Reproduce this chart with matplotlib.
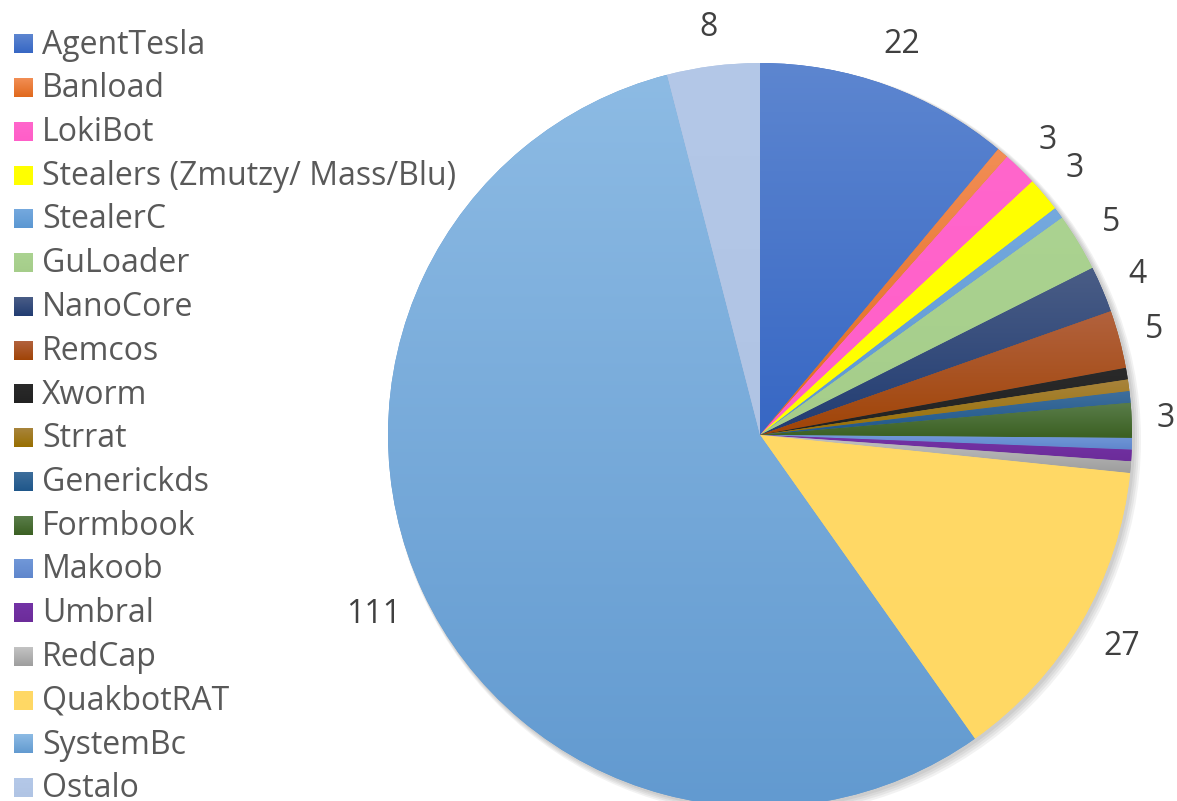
import numpy as np
import matplotlib
matplotlib.use("Agg")
import matplotlib.pyplot as plt
from matplotlib.colors import to_rgb
from matplotlib.patches import Circle

plt.rcParams['font.family'] = ['Open Sans', 'DejaVu Sans']

labels = ["AgentTesla", "Banload", "LokiBot", "Stealers (Zmutzy/ Mass/Blu)", "StealerC",
          "GuLoader", "NanoCore", "Remcos", "Xworm", "Strrat", "Generickds", "Formbook",
          "Makoob", "Umbral", "RedCap", "QuakbotRAT", "SystemBc", "Ostalo"]
values = [22, 1, 3, 3, 1, 5, 4, 5, 1, 1, 1, 3, 1, 1, 1, 27, 111, 8]

# (top colour, bottom colour) gradient per slice
grad = [("#5d86d0", "#3767c4"), ("#f28e55", "#e0691c"), ("#ff66cc", "#ff5ec8"),
        ("#ffff00", "#ffff00"), ("#75a9de", "#5b97d2"), ("#abd391", "#a5cd8a"),
        ("#4a5d86", "#213c72"), ("#b2623e", "#a04406"), ("#2a2a2a", "#222222"),
        ("#a8843c", "#986f00"), ("#3e6e9c", "#1f578a"), ("#5a7d4a", "#3b6022"),
        ("#7198d8", "#5f86cc"), ("#7433a6", "#6c2c9a"), ("#c4c4c4", "#9d9d9d"),
        ("#ffd966", "#ffd864"), ("#8dbbe4", "#629ad0"), ("#b4c8e8", "#b0c4e4")]

W, H = 1177, 801
fig = plt.figure(figsize=(W / 100, H / 100), dpi=100)
ax = fig.add_axes([0, 0, 1, 1])

cx, cy, R = 760, H - 435, 372

def gradient_img(top, bottom, extent, clip=None, z=2):
    t = np.array(to_rgb(top)); b = np.array(to_rgb(bottom))
    f = np.linspace(0, 1, 256)[:, None]
    arr = (b + (t - b) * f)[:, None, :]
    im = ax.imshow(arr, extent=extent, origin='lower', aspect='auto',
                   interpolation='bilinear', zorder=z)
    if clip is not None:
        im.set_clip_path(clip)
    return im

# soft shadow
for k in range(4):
    ax.add_patch(Circle((cx + 2 + k, cy - 2 - k), R + 1 + k, color='black', alpha=0.05,
                        lw=0, zorder=0))

wedges, _ = ax.pie(values, center=(cx, cy), radius=R, startangle=90,
                   counterclock=False, wedgeprops=dict(linewidth=0))
for w, (top, bot) in zip(wedges, grad):
    w.set_facecolor(bot)
    w.set_zorder(1)
    bb = w.get_path().get_extents()
    gradient_img(top, bot, [bb.x0, bb.x1, bb.y0, bb.y1], clip=w, z=2)

# value labels (outside end, constant gap from the rim)
gap, ch_w, ch_h = 24, 18, 28
for w, v in zip(wedges, values):
    if v < 3:
        continue
    th = np.deg2rad((w.theta1 + w.theta2) / 2)
    half = len(str(v)) * ch_w / 2 * abs(np.cos(th)) + ch_h / 2 * abs(np.sin(th))
    r = R + gap + half
    ax.text(cx + r * np.cos(th), cy + r * np.sin(th), str(v),
            ha='center', va='center', fontsize=23, color='#404040')

# legend
y0, dy = 44, 43.75
for i, (lab, (top, bot)) in enumerate(zip(labels, grad)):
    yc = H - (y0 + i * dy)
    gradient_img(top, bot, [14, 33, yc - 9.5, yc + 9.5], z=3)
    ax.text(42, yc - 1, lab, ha='left', va='center', fontsize=23, color='#595959')

ax.set_xlim(0, W)
ax.set_ylim(0, H)
ax.axis('off')
fig.savefig("out.png", dpi=100)
